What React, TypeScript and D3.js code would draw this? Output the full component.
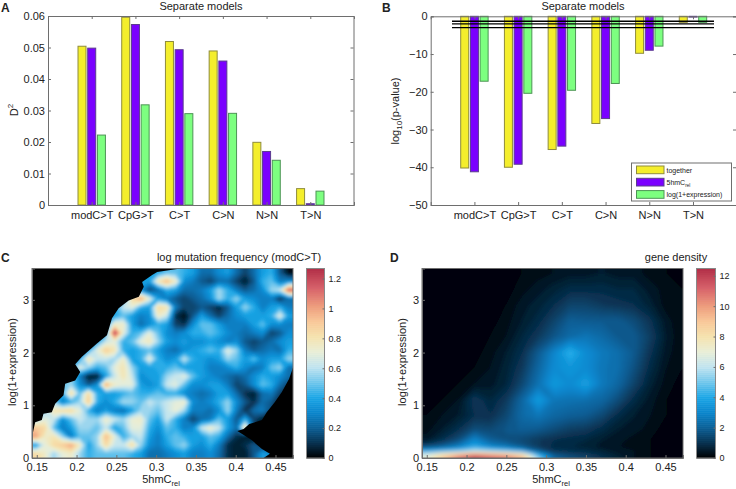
import * as d3 from "d3";
import { useEffect, useRef } from "react";

const categories = ["modC>T", "CpG>T", "C>T", "C>N", "N>N", "T>N"];
const seriesNames = ["together", "5hmC", "log(1+expression)"];
const seriesFill = ["#f4ee2c", "#7a00ff", "#7dff80"];
const seriesStroke = ["#8f8c3c", "#5b3c8f", "#4d9455"];

// panel A, D^2
const d2Together = [0.0504, 0.0596, 0.0519, 0.0489, 0.0199, 0.0052];
const d2Hmc = [0.0498, 0.0573, 0.0493, 0.0457, 0.017, 0.0004];
const d2Expr = [0.0222, 0.0318, 0.029, 0.0291, 0.0142, 0.0044];

// panel B, log10(p-value)
const pTogether = [-40.2, -40, -35.3, -28.4, -9.8, -1.6];
const pHmc = [-41.2, -39.2, -34.4, -27.1, -9, -0.2];
const pExpr = [-17.2, -20.4, -19.6, -17.8, -7.9, -1.6];
const pThresholds = [-1.3, -2, -3];

// panel C, mutation frequency x100 (top row first)
const mutationGrid = [
  [40,40,40,40,40,40,40,40,40,40,40,40,40,40,40,49,49,43,38,24,24,33,38,24,14,24,38,43,19,3],
  [40,40,40,40,40,40,40,40,40,40,40,40,40,38,80,95,75,33,28,19,14,24,24,14,6,19,43,49,28,33],
  [40,40,40,40,40,40,40,40,40,40,40,40,33,14,24,43,38,24,24,28,38,58,43,28,19,24,33,56,63,115],
  [40,40,40,40,40,40,40,40,40,40,40,85,100,70,38,28,19,14,19,24,33,58,43,56,38,33,28,28,10,24],
  [40,40,40,40,40,40,40,40,40,40,63,70,43,38,85,80,28,14,14,19,14,8,19,38,56,43,28,38,43,28],
  [40,40,40,40,40,40,40,40,40,40,49,38,28,33,75,63,10,3,19,38,24,14,24,33,38,38,38,43,70,38],
  [40,40,40,40,40,40,40,40,40,75,75,38,24,33,43,38,14,10,33,49,49,38,28,28,28,38,49,33,33,28],
  [40,40,40,40,40,40,40,40,40,125,70,43,49,70,49,33,28,33,43,43,49,43,33,28,24,28,33,14,19,33],
  [40,40,40,40,40,40,40,40,63,70,43,49,70,78,56,38,33,38,33,33,38,33,28,33,19,14,19,24,33,38],
  [40,40,40,40,40,40,40,70,90,80,43,38,43,49,38,28,24,33,38,43,49,43,70,56,28,19,24,28,24,43],
  [40,40,40,40,40,40,80,63,63,56,75,38,43,72,43,33,38,63,43,38,33,38,56,49,38,49,33,38,38,56],
  [40,40,40,40,40,70,56,43,49,70,80,56,38,38,43,43,49,38,38,38,28,28,33,43,33,24,28,49,56,24],
  [40,40,40,40,56,28,6,6,38,63,80,63,33,38,38,56,63,70,49,38,33,28,24,19,24,33,43,38,33,24],
  [40,40,40,49,56,33,19,33,100,75,70,70,38,33,38,63,70,49,33,33,38,38,28,14,19,33,49,43,24,14],
  [40,40,40,43,85,49,85,43,38,38,43,49,43,43,49,43,43,33,28,24,28,38,38,24,10,6,24,28,14,6],
  [40,40,56,28,43,56,90,43,33,43,58,56,49,63,56,63,70,75,33,28,33,43,56,33,19,10,24,19,6,3],
  [43,56,80,85,85,70,43,28,38,28,24,38,56,56,49,63,72,56,28,28,24,33,56,28,10,24,28,14,3,3],
  [56,70,63,33,49,63,56,56,75,63,56,72,75,49,38,63,43,28,14,24,28,49,38,19,43,14,6,3,3,3],
  [90,85,49,28,38,56,56,49,63,38,49,70,70,43,33,49,43,28,33,63,75,63,38,24,85,14,3,3,3,3],
  [100,75,80,56,28,49,49,56,95,70,43,56,63,38,28,43,49,43,38,38,49,43,24,10,6,3,3,3,3,3],
  [38,70,85,90,100,75,38,56,85,63,63,85,56,33,28,38,49,56,38,33,43,28,10,6,10,19,10,3,3,3],
  [85,75,56,70,75,56,43,49,49,49,49,43,38,24,24,28,33,38,28,28,33,24,10,6,6,19,38,33,3,0],
].map(row => row.map(v => v / 100));

// regions of panel C with no genes, [5hmC, expression]
const emptyUpper = [
  [0.3307,3.595],[0.3013,3.53],[0.295,3.47],[0.2824,3.34],[0.2845,3.25],[0.2782,3.06],[0.2655,2.99],
  [0.2529,2.84],[0.2445,2.65],[0.2382,2.33],[0.2256,2.17],[0.2067,1.92],[0.1983,1.78],[0.2046,1.63],
  [0.1983,1.47],[0.1857,1.41],[0.1836,1.19],[0.1731,1.03],[0.1689,0.87],[0.1584,0.84],[0.1563,0.72],
  [0.148,0.68],[0.144,0.4],[0.144,3.595],
];
const emptyLower = [
  [0.473,1.76],[0.467,1.5],[0.458,1.25],[0.449,1.06],[0.439,0.87],[0.433,0.72],[0.417,0.645],[0.41,0.55],
  [0.402,0.51],[0.42,0.34],[0.433,0.17],[0.443,0.08],[0.435,0],[0.473,0],
];

// panel D, gene density, rows at densityLevels, columns at densityCols
const densityCols = [0.15,0.17,0.19,0.21,0.23,0.25,0.27,0.29,0.31,0.33,0.35,0.37,0.39,0.41,0.43,0.45,0.47];
const densityLevels = [3.5,3.2,2.9,2.6,2.3,2.0,1.7,1.4,1.1,0.8,0.55,0.35,0.22,0.13,0.07,0];
const densityGrid = [
  [0,0,0,0,0,0.1,0.2,0.3,0.4,0.5,0.5,0.6,0.5,0.5,0.3,0.2,0.1],
  [0,0,0,0.05,0.05,0.1,0.3,0.5,0.7,0.9,0.9,0.9,0.8,0.8,0.5,0.3,0.2],
  [0,0,0,0.05,0.05,0.2,0.5,0.7,1.0,1.4,1.4,1.2,1.1,1.0,0.7,0.3,0.2],
  [0,0,0,0.05,0.1,0.3,0.6,0.9,1.4,2.0,1.9,1.9,1.9,1.6,1.1,0.5,0.2],
  [0,0,0,0.1,0.2,0.4,0.8,1.2,1.8,2.3,2.6,2.3,1.9,1.9,1.3,0.6,0.2],
  [0,0,0.05,0.1,0.3,0.6,1.0,1.9,3.0,4.3,3.2,2.7,2.4,1.9,1.1,0.5,0.2],
  [0,0,0.1,0.2,0.4,0.7,1.2,2.2,3.2,3.5,3.2,2.6,2.4,1.7,0.9,0.4,0.2],
  [0,0.1,0.2,0.4,0.5,0.8,1.5,2.5,3.6,3.2,3.8,2.7,2.2,1.4,0.7,0.3,0.1],
  [0.1,0.2,0.4,1.2,0.8,1.2,2.2,3.7,2.6,2.5,2.4,2.2,1.6,0.9,0.5,0.2,0.1],
  [0.2,0.4,0.6,1.0,1.0,1.5,2.3,2.6,2.2,2.0,1.9,1.5,0.9,0.6,0.4,0.2,0.1],
  [0.3,0.6,1.0,1.6,1.5,1.8,2.0,1.9,1.6,1.3,1.2,0.9,0.6,0.5,0.3,0.1,0.1],
  [0.5,1.0,1.6,3.0,2.0,1.7,1.5,1.2,1.0,0.9,0.8,0.6,0.5,0.3,0.2,0.1,0.1],
  [1.5,2.0,2.8,4.0,3.0,2.5,1.8,1.2,0.9,0.8,0.7,0.5,0.4,0.3,0.2,0.1,0.1],
  [4,4.5,5,6,5.5,5,4,2,1.1,1,0.9,0.7,0.5,0.4,0.2,0.1,0.1],
  [6.5,8,9,10,9.5,9,8,4,1.8,1.4,1.2,0.9,0.6,0.4,0.2,0.1,0.1],
  [7,9,11,12.4,11.5,11,9.5,5.5,2.2,1.7,1.4,1,0.7,0.4,0.2,0.1,0.1],
];

const xTicks = [0.15, 0.2, 0.25, 0.3, 0.35, 0.4, 0.45];
const yTicks = [0, 1, 2, 3];
const mutationTicks = [0, 0.2, 0.4, 0.6, 0.8, 1, 1.2];
const densityTicks = [0, 2, 4, 6, 8, 10, 12];

const colorStops = [0, 0.08, 0.16, 0.24, 0.32, 0.4, 0.48, 0.56, 0.64, 0.72, 0.8, 0.9, 1];
const colorValues = ["#000000", "#07304e", "#0b5f96", "#0a85cc", "#1ba6e6", "#6fc6ec", "#bfe3f0", "#e8eed8", "#f5e3ae", "#f8c898", "#ee9d7c", "#d65f68", "#b23048"];

const FONT = "'Liberation Sans', Arial, sans-serif";
const AXIS = "#6e6e6e";
const INK = "#222";

const heat = d3.scaleLinear<string>().domain(colorStops).range(colorValues).interpolate(d3.interpolateRgb).clamp(true);

function styleAxis(g: any) {
  g.selectAll(".domain").attr("stroke", AXIS);
  g.selectAll(".tick line").attr("stroke", AXIS);
  g.selectAll("text").attr("fill", INK).style("font-family", FONT).style("font-size", "11px");
}

function label(svg: any, text: string, x: number, y: number, size = 11, anchor = "middle", weight = "normal") {
  return svg.append("text").attr("x", x).attr("y", y).attr("text-anchor", anchor)
    .attr("font-family", FONT).attr("font-size", size).attr("font-weight", weight).attr("fill", INK).text(text);
}

function rotated(svg: any, parts: [string, string?][], x: number, y: number) {
  const t = svg.append("text").attr("transform", `translate(${x},${y}) rotate(-90)`).attr("text-anchor", "middle")
    .attr("font-family", FONT).attr("font-size", 11).attr("fill", INK);
  parts.forEach(([s, mode]) => {
    const span = t.append("tspan").text(s);
    if (mode === "sub") span.attr("font-size", 8).attr("dy", 3);
    if (mode === "after") span.attr("dy", -3);
    if (mode === "sup") span.attr("font-size", 8).attr("dy", -5);
  });
}

function drawBars(svg: any, left: number, right: number, yScale: any, series: number[][], tickValues: number[], fmt: (v: any) => string) {
  const x = d3.scaleLinear().domain([0, 7]).range([left, left + 306]);
  const top = yScale.range()[1];
  const bottom = yScale.range()[0];
  const group = svg.append("g");
  series.forEach((vals, s) => {
    group.append("g").selectAll("rect").data(vals).join("rect")
      .attr("x", (_: number, i: number) => x(i + 1 + (s - 1) * 0.222) - 4)
      .attr("width", 8)
      .attr("y", (d: number) => Math.min(yScale(d), yScale(0)))
      .attr("height", (d: number) => Math.abs(yScale(d) - yScale(0)))
      .attr("fill", seriesFill[s])
      .attr("stroke", seriesStroke[s]);
  });
  const xAxis = d3.axisBottom(x).tickValues(d3.range(1, 7)).tickSize(-3).tickPadding(6)
    .tickFormat((_, i) => categories[i]);
  svg.append("g").attr("transform", `translate(0,${bottom})`).call(xAxis).call(styleAxis);
  svg.append("g").attr("transform", `translate(0,${top})`)
    .call(d3.axisTop(x).tickValues(d3.range(1, 7)).tickSize(-3).tickFormat(() => "")).call(styleAxis);
  svg.append("g").attr("transform", `translate(${left},0)`)
    .call(d3.axisLeft(yScale).tickValues(tickValues).tickSize(-3).tickPadding(3).tickFormat(fmt)).call(styleAxis);
  svg.append("g").attr("transform", `translate(${right},0)`)
    .call(d3.axisRight(yScale).tickValues(tickValues).tickSize(-3).tickFormat(() => "")).call(styleAxis);
}

// grid rows and columns sit at colPos/rowPos; edges are repeated so the blur has something to spread into
function drawHeat(svg: any, id: string, grid: number[][], colPos: number[], rowPos: number[], maxV: number, x: any, y: any) {
  const pad = 3;
  const n = grid[0].length + pad * 2;
  const m = grid.length + pad * 2;
  const values: number[] = [];
  for (let j = 0; j < m; j++) {
    const row = grid[Math.max(0, Math.min(grid.length - 1, j - pad))];
    for (let i = 0; i < n; i++) values.push(row[Math.max(0, Math.min(row.length - 1, i - pad))]);
  }
  const sx = d3.scaleLinear().domain(colPos.map((_, i) => i + pad + 0.5)).range(colPos.map(v => x(v)));
  const sy = d3.scaleLinear().domain(rowPos.map((_, i) => i + pad + 0.5)).range(rowPos.map(v => y(v)));
  const path = d3.geoPath(d3.geoTransform({
    point(px: number, py: number) { (this as any).stream.point(sx(px), sy(py)); },
  }));
  const thresholds = d3.range(0, 64).map(i => (i / 64) * maxV);
  const contours = d3.contours().size([n, m]).smooth(true).thresholds(thresholds)(values);

  const [x0, x1] = x.range();
  const [y0, y1] = y.range();
  const defs = svg.append("defs");
  defs.append("clipPath").attr("id", `clip-${id}`).append("rect")
    .attr("x", x0).attr("y", y1).attr("width", x1 - x0).attr("height", y0 - y1);
  defs.append("filter").attr("id", `blur-${id}`).attr("filterUnits", "userSpaceOnUse")
    .attr("x", x0 - 40).attr("y", y1 - 40).attr("width", x1 - x0 + 80).attr("height", y0 - y1 + 80)
    .append("feGaussianBlur").attr("stdDeviation", id === "c" ? 1.6 : 2);

  const clipped = svg.append("g").attr("clip-path", `url(#clip-${id})`);
  clipped.append("rect").attr("x", x0).attr("y", y1).attr("width", x1 - x0).attr("height", y0 - y1).attr("fill", "#000");
  clipped.append("g").attr("filter", `url(#blur-${id})`).selectAll("path").data(contours).join("path")
    .attr("d", (d: any) => path(d))
    .attr("fill", (d: any) => heat((d.value + maxV / 128) / maxV));
  return clipped;
}

function drawFrame(svg: any, x: any, y: any) {
  const [x0, x1] = x.range();
  const [y0, y1] = y.range();
  svg.append("rect").attr("x", x0).attr("y", y1).attr("width", x1 - x0).attr("height", y0 - y1)
    .attr("fill", "none").attr("stroke", AXIS);
  const xa = d3.axisBottom(x).tickValues(xTicks).tickSize(-3).tickPadding(5).tickFormat(d3.format("~g") as any);
  svg.append("g").attr("transform", `translate(0,${y0})`).call(xa).call(styleAxis);
  svg.append("g").attr("transform", `translate(${x0},0)`)
    .call(d3.axisLeft(y).tickValues(yTicks).tickSize(-3).tickPadding(3).tickFormat(d3.format("d") as any)).call(styleAxis);
}

function drawColorbar(svg: any, left: number, right: number, maxV: number, ticks: number[], top: number, bottom: number) {
  const c = d3.scaleLinear().domain([0, maxV]).range([bottom, top]);
  const steps = d3.range(0, 95);
  svg.append("g").selectAll("rect").data(steps).join("rect")
    .attr("x", left).attr("width", right - left)
    .attr("y", (d: number) => c(((d + 1) / 95) * maxV))
    .attr("height", (bottom - top) / 95 + 0.5)
    .attr("fill", (d: number) => heat((d + 0.5) / 95));
  svg.append("rect").attr("x", left).attr("y", top).attr("width", right - left).attr("height", bottom - top)
    .attr("fill", "none").attr("stroke", "#888");
  const g = svg.append("g").attr("transform", `translate(${right},0)`)
    .call(d3.axisRight(c).tickValues(ticks).tickSize(-2).tickPadding(4).tickFormat(d3.format("~g") as any));
  styleAxis(g);
  g.select(".domain").remove();
  g.selectAll("text").style("font-size", "9px");
}

function xLabel(svg: any, x: number, y: number) {
  const t = svg.append("text").attr("x", x).attr("y", y).attr("text-anchor", "middle")
    .attr("font-family", FONT).attr("font-size", 11).attr("fill", INK);
  t.append("tspan").text("5hmC");
  t.append("tspan").text("rel").attr("font-size", 7.5).attr("dy", 3);
}

export default function App() {
  const ref = useRef<SVGSVGElement>(null);

  useEffect(() => {
    const svg = d3.select(ref.current);
    svg.selectAll("*").remove();

    // A
    const yA = d3.scaleLinear().domain([0, 0.06]).range([205, 16]);
    drawBars(svg, 48, 353.5, yA, [d2Together, d2Hmc, d2Expr], d3.range(0, 7).map(i => i / 100), d3.format("~g"));
    label(svg, "Separate models", 201, 9.5);
    label(svg, "A", 1, 12, 12, "start", "bold");
    rotated(svg, [["D"], ["2", "sup"]], 18, 110);

    // B
    const yB = d3.scaleLinear().domain([-50, 0]).range([205, 16.3]);
    drawBars(svg, 430.7, 736, yB, [pTogether, pHmc, pExpr], d3.range(-50, 1, 10), d3.format("d"));
    svg.append("g").selectAll("line").data(pThresholds).join("line")
      .attr("x1", 452).attr("x2", 714)
      .attr("y1", d => yB(d)).attr("y2", d => yB(d))
      .attr("stroke", "#000").attr("stroke-width", 1.4);
    label(svg, "Separate models", 583, 9.5);
    label(svg, "B", 382, 12, 12, "start", "bold");
    rotated(svg, [["log"], ["10", "sub"], ["(p-value)", "after"]], 399, 111);

    // legend
    const legend = svg.append("g").attr("transform", "translate(631.5,163)");
    legend.append("rect").attr("width", 100).attr("height", 38).attr("fill", "#fff").attr("stroke", AXIS);
    seriesNames.forEach((name, i) => {
      legend.append("rect").attr("x", 5).attr("y", 3 + i * 12.3).attr("width", 27.5).attr("height", 7.7)
        .attr("fill", seriesFill[i]).attr("stroke", seriesStroke[i]);
      const t = legend.append("text").attr("x", 35).attr("y", 9.5 + i * 12.3)
        .attr("font-family", FONT).attr("font-size", 7).attr("fill", INK).text(name);
      if (i === 1) t.append("tspan").text("rel").attr("font-size", 4.5).attr("dy", 2);
    });

    // C
    const xC = d3.scaleLinear().domain([0.144, 0.472]).range([32, 293]);
    const yHeat = d3.scaleLinear().domain([0, 3.595]).range([458, 268.5]);
    const mutationCols = d3.range(30).map(i => xC.invert(32 + (261 / 30) * (i + 0.5)));
    const mutationRows = d3.range(22).map(i => yHeat.invert(268.5 + (189.5 / 22) * (i + 0.5)));
    const clippedC = drawHeat(svg, "c", mutationGrid, mutationCols, mutationRows, 1.267, xC, yHeat);
    const area = d3.line().x((d: any) => xC(d[0])).y((d: any) => yHeat(d[1]));
    clippedC.append("g").selectAll("path").data([emptyUpper, emptyLower]).join("path")
      .attr("d", (d: any) => area(d) + "Z").attr("fill", "#000");
    drawFrame(svg, xC, yHeat);
    drawColorbar(svg, 306.5, 324.5, 1.267, mutationTicks, 268.5, 458);
    label(svg, "C", 1, 262, 12, "start", "bold");
    label(svg, "log mutation frequency (modC>T)", 239, 261);
    xLabel(svg, 161, 483);
    rotated(svg, [["log(1+expression)"]], 16, 362);

    // D
    const xD = d3.scaleLinear().domain([0.144, 0.472]).range([422, 683]);
    drawHeat(svg, "d", densityGrid, densityCols, densityLevels, 12.48, xD, yHeat);
    drawFrame(svg, xD, yHeat);
    drawColorbar(svg, 696.5, 715.5, 12.48, densityTicks, 268.5, 458);
    label(svg, "D", 390, 262, 12, "start", "bold");
    label(svg, "gene density", 676, 261);
    xLabel(svg, 551, 483);
    rotated(svg, [["log(1+expression)"]], 406, 362);
  }, []);

  return (
    <svg
      ref={ref}
      width={736}
      height={489}
      style={{ position: "absolute", left: 0, top: 0, background: "#fff" }}
    />
  );
}
